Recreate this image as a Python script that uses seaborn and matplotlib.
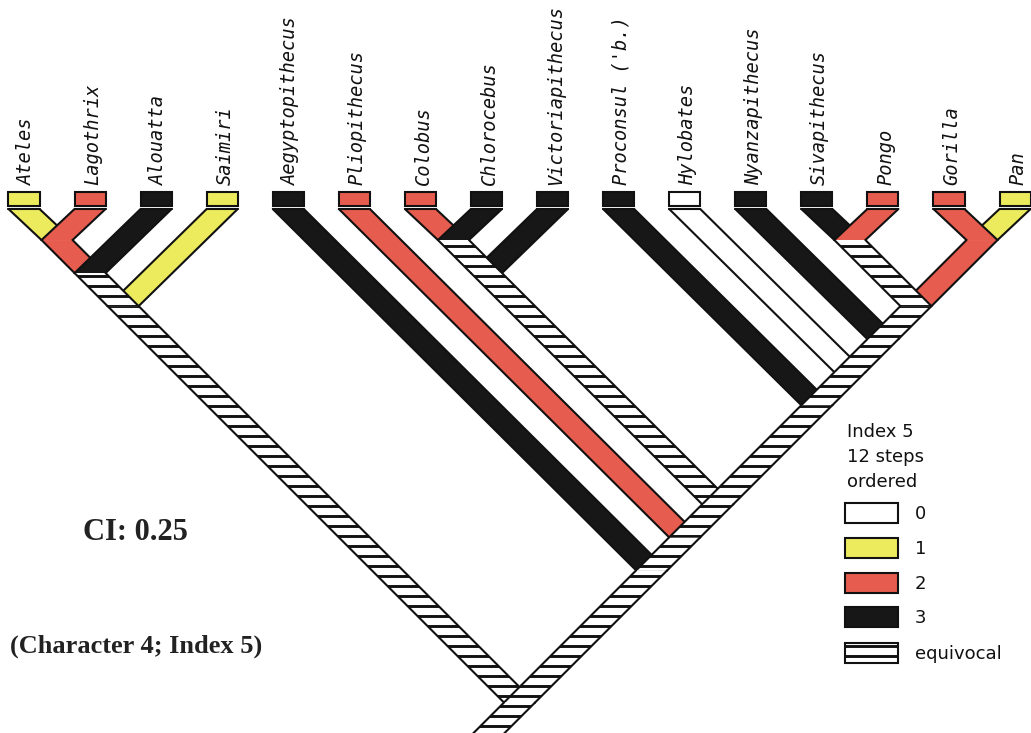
import numpy as np
import matplotlib
matplotlib.use("Agg")
import matplotlib.pyplot as plt
import seaborn as sns
from matplotlib.patches import Polygon, Rectangle

# tips, left to right
taxa = ["Ateles", "Lagothrix", "Alouatta", "Saimiri", "Aegyptopithecus",
        "Pliopithecus", "Colobus", "Chlorocebus", "Victoriapithecus",
        "Proconsul ('b.)", "Hylobates", "Nyanzapithecus", "Sivapithecus",
        "Pongo", "Gorilla", "Pan"]
tip_states = [1, 2, 3, 1, 3, 2, 2, 3, 3, 3, 0, 3, 3, 2, 2, 1]

# internal nodes as (first tip, last tip) and the state of the branch below them
# 4 = equivocal
clade_spans = [(0, 1), (0, 2), (0, 3), (4, 15), (5, 15), (6, 7), (6, 8), (6, 15),
               (9, 15), (10, 15), (11, 15), (12, 13), (14, 15), (12, 15), (0, 15)]
clade_states = [2, 4, 4, 4, 4, 4, 4, 4, 4, 4, 4, 4, 2, 4, 4]

legend_title = ["Index 5", "12 steps", "ordered"]
legend_labels = ["0", "1", "2", "3", "equivocal"]
legend_states = [0, 1, 2, 3, 4]
ci_text = "CI: 0.25"
char_text = "(Character 4; Index 5)"

sns.set_theme(style="white")
plt.rcParams['font.family'] = ['DejaVu Sans']
state_colors = sns.color_palette(["#ffffff", "#eceb5e", "#e65c4e", "#171717", "#ffffff"])

W, H = 1031, 733
STEP = 66.07      # pixels between tips
X0, Y0 = 24, 207  # pixel position of first tip / tip line
HW = 0.235        # half width of a branch, in tip units
LW = 1.5
INK = "#111111"

fig = plt.figure(figsize=(W / 100, H / 100), dpi=100)
ax = fig.add_axes([0, 0, 1, 1])
ax.set_xlim(-X0 / STEP, (W - X0) / STEP)
ax.set_ylim((H - Y0) / STEP, -Y0 / STEP)
ax.set_axis_off()

stripe_y = np.arange(-4, 9, 10 / STEP) + 0.05


def px(x, y):
    return (x - X0) / STEP, (y - Y0) / STEP


def stripes(patch, z):
    lc = ax.hlines(stripe_y, -1, 16, colors=INK, lw=2.1, zorder=z)
    lc.set_clip_path(patch)


def band(x0, y0, x1, y1, state, z, top=False):
    pts = [(x0 - HW, y0), (x0 + HW, y0), (x1 + HW, y1), (x1 - HW, y1)]
    poly = Polygon(pts, closed=True, facecolor=state_colors[state], edgecolor="none", zorder=z)
    ax.add_patch(poly)
    if state == 4:
        stripes(poly, z + 0.1)
    ax.plot([x0 - HW, x1 - HW], [y0, y1], color=INK, lw=LW, zorder=z + 0.2, solid_capstyle="round")
    ax.plot([x0 + HW, x1 + HW], [y0, y1], color=INK, lw=LW, zorder=z + 0.2, solid_capstyle="round")
    if top:
        ax.plot([x0 - HW, x0 + HW], [y0, y0], color=INK, lw=LW, zorder=z + 0.2)


def pos(span):
    a, b = span
    return (a + b) / 2, (b - a) / 2


def parent_of(span):
    best = None
    for c in clade_spans:
        if c != span and c[0] <= span[0] and span[1] <= c[1]:
            if best is None or c[1] - c[0] < best[1] - best[0]:
                best = c
    return best


# every node: tips as (i, i), clades as spans
nodes = [(i, i) for i in range(len(taxa))] + clade_spans
states = dict(zip(nodes, tip_states + clade_states))
children = {c: [n for n in nodes if parent_of(n) == c] for c in clade_spans}

z = 2
for c in sorted(clade_spans, key=lambda s: s[1] - s[0]):
    kids = sorted(children[c], key=lambda n: n[0])
    # the child that carries the parent's state is drawn on top
    kids = sorted(kids, key=lambda n: (states[n] == states[c], n[0]))
    px_, py_ = pos(c)
    for k in kids:
        kx, ky = pos(k)
        is_tip = k[0] == k[1]
        if is_tip:
            ky = 0.03
        band(kx, ky, px_, py_, states[k], z, top=is_tip)
        z += 1

# root stem
rx, ry = pos((0, 15))
band(rx, ry, rx - 0.6, ry + 0.6, states[(0, 15)], z)

# tip boxes and names
for i, (name, s) in enumerate(zip(taxa, tip_states)):
    ax.add_patch(Rectangle((i - HW, -0.228), 2 * HW, 0.212, facecolor=state_colors[s],
                           edgecolor=INK, lw=LW, zorder=50))
    ax.text(i + 0.04, -0.335, name, rotation=90, ha="center", va="bottom",
            fontsize=13.5, family="DejaVu Sans Mono", style="italic", color="#111111")

# legend
for j, line in enumerate(legend_title):
    fig.text(847 / W, 1 - (437 + 25 * j) / H, line, fontsize=13, color="#111111",
             ha="left", va="baseline")
box_tops = [503, 538, 573, 607, 643]
for top, lab, s in zip(box_tops, legend_labels, legend_states):
    bx, by = px(845, top)
    rect = Rectangle((bx, by), 53 / STEP, 20 / STEP, facecolor=state_colors[s],
                     edgecolor=INK, lw=LW, zorder=50)
    ax.add_patch(rect)
    if s == 4:
        stripes(rect, 50.5)
    fig.text(915 / W, 1 - (top + 11) / H, lab, fontsize=13, color="#111111",
             ha="left", va="center")

fig.text(83 / W, 1 - 540 / H, ci_text, family="Liberation Serif", weight="bold",
         fontsize=22, color="#222222", ha="left", va="baseline")
fig.text(10 / W, 1 - 653 / H, char_text, family="Liberation Serif", weight="bold",
         fontsize=19, color="#222222", ha="left", va="baseline")

plt.savefig("out.png", dpi=100, facecolor="white")
